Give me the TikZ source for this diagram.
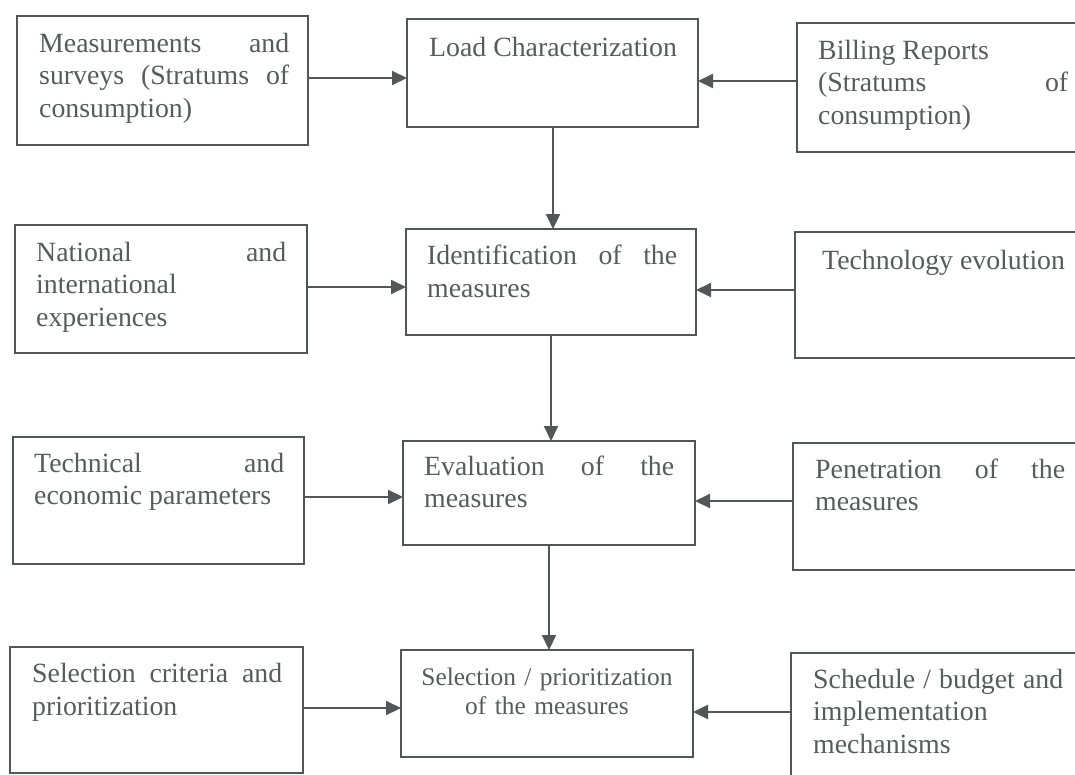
\documentclass[tikz,border=0pt]{standalone}
\usepackage{fontspec}
\setmainfont{Liberation Serif}
\usetikzlibrary{arrows.meta,calc}
\hbadness=10000 \hfuzz=8pt \tolerance=10000 \pretolerance=-1 \hyphenpenalty=10000
\setlength{\parindent}{0pt}
\definecolor{ln}{RGB}{82,86,88}
\definecolor{tx}{RGB}{88,90,92}
\begin{document}
\begin{tikzpicture}[x=1pt,y=-1pt,
  box/.style={draw=ln,line width=1.8pt,inner sep=0pt,outer sep=0pt,anchor=north west},
  txt/.style={text=tx,inner sep=0pt,anchor=north west,text width=250pt,align=justify,
    font=\fontsize{27.8}{32.5}\selectfont},
  ctxt/.style={text=tx,inner sep=0pt,anchor=north,text width=280pt,align=center,
    font=\fontsize{25.4}{29}\selectfont},
  arr/.style={draw=ln,line width=2pt,-{Triangle[length=15pt,width=14pt]}}]
\useasboundingbox (0,0) rectangle (1075,774);
\clip (0,0) rectangle (1075,774);
% left column
\node[box,minimum width=291,minimum height=129] (l1) at (17,16) {};
\node[box,minimum width=292,minimum height=128] (l2) at (15,225) {};
\node[box,minimum width=291,minimum height=127] (l3) at (13,437) {};
\node[box,minimum width=293,minimum height=126] (l4) at (10,647) {};
% centre column
\node[box,minimum width=291,minimum height=108] (c1) at (407,19) {};
\node[box,minimum width=290,minimum height=106] (c2) at (406,229) {};
\node[box,minimum width=292,minimum height=104] (c3) at (403,441) {};
\node[box,minimum width=292,minimum height=107] (c4) at (401,650) {};
% right column
\node[box,minimum width=290,minimum height=129] (r1) at (797,23) {};
\node[box,minimum width=292,minimum height=126] (r2) at (795,232) {};
\node[box,minimum width=294,minimum height=127] (r3) at (793,443) {};
\node[box,minimum width=296,minimum height=140] (r4) at (791,653) {};
% texts
\node[txt] (l1t) at ($(l1.north west)+(22,13.5)$) {\strut Measurements and\linebreak surveys (Stratums of\linebreak consumption)};
\node[txt] (l2t) at ($(l2.north west)+(21,13.5)$) {\strut National and\linebreak international\\ experiences};
\node[txt] (l3t) at ($(l3.north west)+(21,12.5)$) {\strut Technical and\linebreak economic parameters};
\node[txt] (l4t) at ($(l4.north west)+(22,13)$) {\strut Selection criteria and\linebreak prioritization};
\node[txt] (c1t) at ($(c1.north west)+(22,14.5)$) {\strut Load Characterization};
\node[txt] (c2t) at ($(c2.north west)+(21,13)$) {\strut Identification of the\linebreak measures};
\node[txt] (c3t) at ($(c3.north west)+(21,11.5)$) {\strut Evaluation of the\linebreak measures};
\node[ctxt] (c4t) at ($(c4.north)+(0,14.7)$) {\strut Selection / prioritization\\ of the measures};
\node[txt] (r1t) at ($(r1.north west)+(21,13.5)$) {\strut Billing Reports\\ (Stratums of\linebreak consumption)};
\node[txt] (r2t) at ($(r2.north west)+(27,14.5)$) {\strut Technology evolution};
\node[txt] (r3t) at ($(r3.north west)+(22,12.5)$) {\strut Penetration of the\linebreak measures};
\node[txt] (r4t) at ($(r4.north west)+(22,12.5)$) {\strut Schedule / budget and\linebreak implementation\\ mechanisms};
% horizontal arrows
\draw[arr] (l1.east |- 0,78) -- (c1.west |- 0,78);
\draw[arr] (r1.west |- 0,81) -- (c1.east |- 0,81);
\draw[arr] (l2.east |- 0,287) -- (c2.west |- 0,287);
\draw[arr] (r2.west |- 0,290) -- (c2.east |- 0,290);
\draw[arr] (l3.east |- 0,497) -- (c3.west |- 0,497);
\draw[arr] (r3.west |- 0,501) -- (c3.east |- 0,501);
\draw[arr] (l4.east |- 0,708) -- (c4.west |- 0,708);
\draw[arr] (r4.west |- 0,712) -- (c4.east |- 0,712);
% vertical arrows
\draw[arr] (c1.south -| 553,0) -- (c2.north -| 553,0);
\draw[arr] (c2.south -| 551,0) -- (c3.north -| 551,0);
\draw[arr] (c3.south -| 549,0) -- (c4.north -| 549,0);
\end{tikzpicture}
\end{document}
